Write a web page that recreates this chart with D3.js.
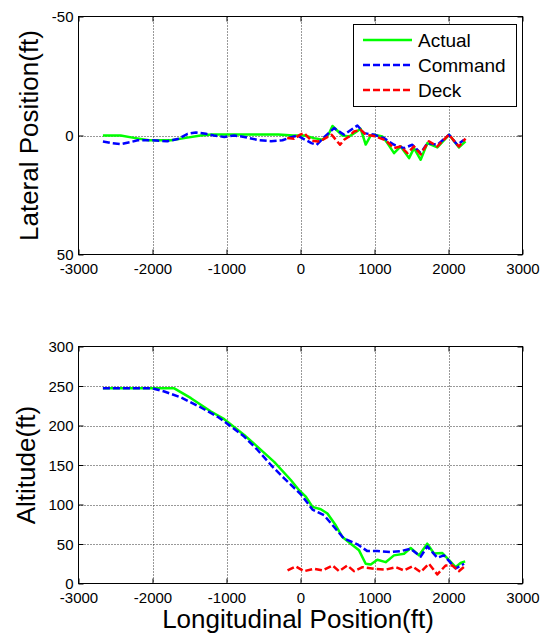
<!DOCTYPE html>
<html><head><meta charset="utf-8">
<script src="https://cdn.jsdelivr.net/npm/d3@7"></script>
<style>body{margin:0;background:#fff;}svg{display:block;}text{font-family:"Liberation Sans",Arial,sans-serif;fill:#000;}</style>
</head><body><svg id="c" width="544" height="637"></svg>
<script>
// ---- data ----
const xTicks = [-3000,-2000,-1000,0,1000,2000,3000];
const latTicks = [-50,0,50];
const altTicks = [0,50,100,150,200,250,300];
const legendLabels = ["Actual","Command","Deck"];

const latActualX = [-2670,-2430,-2250,-2050,-1750,-1550,-1350,-1200,-800,-300,-100,49,184,296,380,432,567,657,747,814,881,949,994,1107,1174,1264,1354,1467,1534,1624,1714,1849,2007,2142,2230];
const latActualY = [0,0,1,2,2,1,0,-0.4,-0.4,-0.4,0,0,1.1,1.8,-0.5,-4.0,0,0.4,-1.4,-2.8,3.8,0,-0.3,0.4,3.2,7.4,4.6,9.5,5.3,10.2,3.2,5.0,-0.3,5.0,2.5];

const latCommandX = [-2670,-2550,-2430,-2300,-2200,-2000,-1800,-1660,-1525,-1413,-1278,-1170,-1030,-896,-760,-560,-400,-243,-158,-40,4,148,218,331,454,589,769,859,994,1129,1264,1399,1512,1624,1714,1849,2007,2119,2210];
const latCommandY = [2.5,3.2,3.6,2.8,2,2,2.4,1.5,-0.7,-1.3,-0.7,0,0.6,0,0.6,2,2.4,2,1,0,0.8,3.2,3.9,0.4,-3.1,-0.3,-4.2,-1.0,-0.3,1.1,3.9,5.3,3.9,7.4,3.2,3.9,-0.3,3.9,1.8];

const latDeckX = [-180,-86,4,49,148,238,296,421,534,589,657,724,814,881,950,1016,1150,1263,1354,1444,1534,1624,1735,1849,2005,2140,2230];
const latDeckY = [1.1,1.4,-0.5,-1,2.2,2.5,1.8,-0.3,3.9,1.8,0.4,-1.7,-2.4,-0.3,0,0.4,2,5.3,4.6,7.4,4.6,7.9,2.4,4.6,-0.4,4.6,1.3];

const altActualX = [-2670,-1706,-1480,-1210,-1031,-761,-580,-356,-131,-19,72,162,274,364,476,567,679,791,881,949,1039,1151,1263,1399,1489,1601,1713,1804,1917,2005,2096,2163,2225];
const altActualY = [247,247,234.6,217.7,208,188,173,154,131,118,110,97,94,88.6,73.7,58.8,50.4,42,25,24,30,27,35.6,37.7,45,35.6,50.4,38,38.5,30,20.7,26,28];

const altCommandX = [-2670,-1997,-1840,-1615,-1345,-1120,-985,-761,-580,-400,-220,4,162,319,454,589,769,904,1039,1219,1354,1489,1624,1714,1849,1939,2097,2210];
const altCommandY = [247,247,243,235.5,222.8,211,202,186,169,150,133,113,93.6,86.4,71.5,56.8,49.6,41,41,39.8,41,44,34,47,32.6,35.6,19,25];

const altDeckX = [-175,-63,49,184,297,432,521,634,723,837,994,1151,1286,1399,1512,1624,1735,1849,1961,2051,2140,2230];
const altDeckY = [16.5,21.6,15.6,18.7,16.5,22.8,15.6,22.8,15.6,20.7,18.7,17.6,20.7,16.5,21.6,14.4,25,11.5,22.8,22.8,15.6,22.8];

// ---- drawing ----
const svg = d3.select("#c");
svg.append("rect").attr("width",544).attr("height",637).attr("fill","#fff");

const colors = {Actual:"#00ff00", Command:"#0000ff", Deck:"#ff0000"};
const dash = {Actual:null, Command:"7,3", Deck:"7,3"};
const tickFont = 15;
const fmt = d => String(d);

function panel(cfg){
  const x = d3.scaleLinear().domain([-3000,3000]).range([78.5,522.5]);
  const y = d3.scaleLinear().domain(cfg.yDomain).range(cfg.yRange);
  const g = svg.append("g");
  const top = Math.min(...cfg.yRange), bot = Math.max(...cfg.yRange);
  // grid
  const grid = g.append("g").attr("stroke","#333").attr("stroke-width",1).attr("stroke-dasharray","1,2").attr("fill","none");
  grid.selectAll(".gx").data(xTicks.slice(1,-1)).join("line")
    .attr("x1",d=>Math.round(x(d))+0.5).attr("x2",d=>Math.round(x(d))+0.5).attr("y1",top).attr("y2",bot);
  grid.selectAll(".gy").data(cfg.yTicks.filter(t=>t!==cfg.yDomain[0]&&t!==cfg.yDomain[1])).join("line")
    .attr("y1",d=>Math.round(y(d))+0.5).attr("y2",d=>Math.round(y(d))+0.5).attr("x1",x.range()[0]).attr("x2",x.range()[1]);
  // axes with inward ticks
  const xb = g.append("g").attr("transform",`translate(0,${bot})`)
    .call(d3.axisBottom(x).tickValues(xTicks).tickSizeInner(-5).tickSizeOuter(0).tickPadding(9).tickFormat(fmt));
  const xt = g.append("g").attr("transform",`translate(0,${top})`)
    .call(d3.axisTop(x).tickValues(xTicks).tickSizeInner(-5).tickSizeOuter(0).tickFormat(""));
  const yl = g.append("g").attr("transform",`translate(${x.range()[0]},0)`)
    .call(d3.axisLeft(y).tickValues(cfg.yTicks).tickSizeInner(-5).tickSizeOuter(0).tickPadding(5).tickFormat(fmt));
  const yr = g.append("g").attr("transform",`translate(${x.range()[1]},0)`)
    .call(d3.axisRight(y).tickValues(cfg.yTicks).tickSizeInner(-5).tickSizeOuter(0).tickFormat(""));
  [xb,xt,yl,yr].forEach(a=>{a.select(".domain").remove(); a.selectAll("line").attr("stroke","#000");
    a.selectAll("text").attr("font-size",tickFont).attr("font-family","'Liberation Sans',Arial,sans-serif");});
  xb.selectAll("text").attr("dy",null).attr("y",19.5);
  yl.selectAll("text").attr("dy","0.35em");
  // box
  g.append("rect").attr("x",x.range()[0]).attr("y",top).attr("width",x.range()[1]-x.range()[0]).attr("height",bot-top)
    .attr("fill","none").attr("stroke","#000").attr("stroke-width",1);
  // series
  const line = d3.line().x(d=>x(d[0])).y(d=>y(d[1]));
  cfg.series.forEach(s=>{
    g.append("path").datum(d3.zip(s.xs,s.ys)).attr("d",line).attr("fill","none")
      .attr("stroke",colors[s.name]).attr("stroke-width",2.5).attr("stroke-dasharray",dash[s.name])
      .attr("stroke-linejoin","round");
  });
  // y label
  g.append("text").attr("transform",`translate(${cfg.ylabX},${(top+bot)/2}) rotate(-90)`)
    .attr("text-anchor","middle").attr("font-size",26).text(cfg.ylabel);
  return {x,y,g};
}

panel({yDomain:[-50,50], yRange:[16.5,254.5], yTicks:latTicks, ylabel:"Lateral Position(ft)", ylabX:38,
  series:[{name:"Actual",xs:latActualX,ys:latActualY},{name:"Command",xs:latCommandX,ys:latCommandY},{name:"Deck",xs:latDeckX,ys:latDeckY}]});
panel({yDomain:[0,300], yRange:[583.5,346.5], yTicks:altTicks, ylabel:"Altitude(ft)", ylabX:35,
  series:[{name:"Actual",xs:altActualX,ys:altActualY},{name:"Command",xs:altCommandX,ys:altCommandY},{name:"Deck",xs:altDeckX,ys:altDeckY}]});

svg.append("text").attr("x",298).attr("y",628).attr("text-anchor","middle").attr("font-size",26).text("Longitudinal Position(ft)");

// legend
const lg = svg.append("g");
lg.append("rect").attr("x",353.5).attr("y",24.5).attr("width",163).attr("height",82).attr("fill","#fff").attr("stroke","#000").attr("stroke-width",1);
const ly = d3.scalePoint().domain(legendLabels).range([40,90]);
legendLabels.forEach(n=>{
  lg.append("line").attr("x1",363).attr("x2",412).attr("y1",ly(n)).attr("y2",ly(n))
    .attr("stroke",colors[n]).attr("stroke-width",2.5).attr("stroke-dasharray",dash[n]);
  lg.append("text").attr("x",418).attr("y",ly(n)).attr("dy","0.35em").attr("font-size",19).text(n);
});
</script></body></html>
